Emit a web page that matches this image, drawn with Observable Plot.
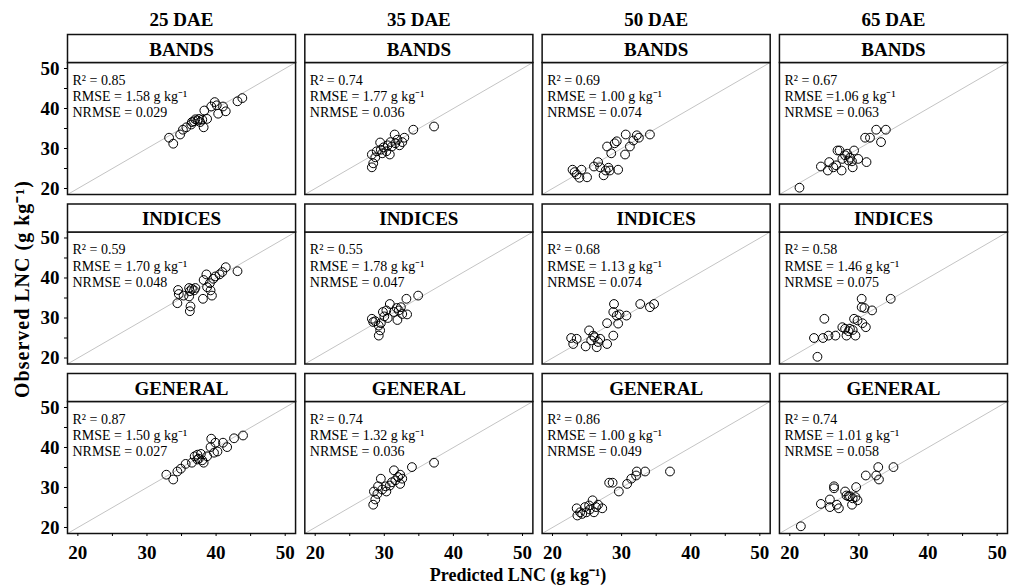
<!DOCTYPE html>
<html><head><meta charset="utf-8">
<script src="https://cdn.jsdelivr.net/npm/d3@7"></script>
<script src="https://cdn.jsdelivr.net/npm/@observablehq/plot@0.6"></script>
<style>
body{margin:0;background:#fff;}
#wrap{position:relative;width:1010px;height:587px;font-family:"Liberation Serif","Times New Roman",serif;color:#000;}
#wrap svg{position:absolute;left:0;top:0;}
.lab{position:absolute;font-weight:bold;white-space:nowrap;line-height:1;}
#ylab{left:22px;top:289px;font-size:20px;letter-spacing:1px;transform:translate(-50%,-50%) rotate(-90deg);}
#xlab{left:518px;top:575px;font-size:18px;transform:translate(-50%,-50%);}
</style>
</head><body>
<div id="wrap"></div>
<script>
// ---------- data ----------
const stages = ["25 DAE", "35 DAE", "50 DAE", "65 DAE"];
const models = ["BANDS", "INDICES", "GENERAL"];
const axisDomain = [18.5, 51.5];
const tickValues = [20, 25, 30, 35, 40, 45, 50];
const labelledTicks = [20, 30, 40, 50];

// BANDS
const bands25Pred = [33.2,33.8,34.8,35.2,35.7,36.4,36.8,37.0,37.3,37.5,37.7,38.2,38.3,38.7,39.3,39.8,40.1,40.3,41.0,41.4,43.1,43.8,36.5,38.0];
const bands25Obs  = [32.7,31.2,33.5,34.7,35.3,36.0,36.8,37.3,37.0,37.4,36.6,35.3,39.5,37.4,40.5,41.6,40.8,38.7,40.5,39.3,41.8,42.6,36.6,37.2];
const bands35Pred = [28.2,28.4,28.2,28.9,29.4,29.5,29.9,30.3,30.5,30.8,31.1,31.5,31.6,31.9,32.2,32.6,32.9,34.2,37.2,29.7,30.9,28.7];
const bands35Obs  = [25.3,26.3,28.5,29.3,31.5,29.7,30.3,29.3,30.8,28.5,30.5,33.5,31.3,32.2,30.8,31.6,32.7,34.7,35.5,28.8,31.6,27.8];
const bands50Pred = [22.9,23.2,23.5,23.9,24.2,25.0,26.0,26.6,26.9,27.4,27.7,28.1,28.3,29.5,27.9,28.5,29.0,29.3,30.6,30.5,31.2,31.7,32.2,32.5,34.1];
const bands50Obs  = [24.7,24.1,23.5,22.7,24.7,22.8,25.5,26.6,25.3,23.3,24.5,25.2,24.5,24.7,30.5,28.8,31.3,31.8,33.5,28.5,30.5,32.0,33.3,32.7,33.5];
const bands65Pred = [21.4,24.5,25.5,25.7,26.3,26.7,26.9,27.2,27.5,27.6,28.0,28.3,28.5,28.7,29.1,29.3,29.9,31.1,30.9,31.6,32.5,33.2,33.9,29.0];
const bands65Obs  = [20.2,25.5,24.5,26.6,25.3,25.8,29.5,29.5,24.5,27.4,28.3,28.7,27.0,27.7,25.3,29.5,27.4,26.6,32.7,32.7,34.7,31.6,34.7,26.8];

// INDICES
const indices25Pred = [34.5,34.6,34.4,35.3,36.1,36.2,36.3,36.2,36.5,37.0,36.1,38.1,38.2,38.6,38.7,39.1,39.2,39.4,39.6,39.9,40.5,40.9,41.4,43.1,36.8];
const indices25Obs  = [37.0,36.0,33.7,35.6,37.5,36.7,32.9,31.7,37.3,37.5,35.4,34.8,39.5,40.9,37.7,38.7,36.9,35.6,39.8,40.4,40.9,41.5,42.7,41.7,36.9];
const indices35Pred = [28.2,28.4,29.2,29.4,29.5,29.8,30.0,30.3,30.5,30.8,31.4,31.9,32.1,32.4,32.6,33.2,33.3,34.9,29.2,31.8,28.7];
const indices35Obs  = [29.8,29.0,25.6,26.9,28.7,31.5,30.4,31.9,30.0,33.5,31.5,29.5,31.9,32.7,31.0,34.8,30.9,35.6,28.1,32.5,29.2];
const indices50Pred = [22.7,23.0,23.5,24.8,25.3,25.6,25.9,26.1,26.4,26.6,26.9,27.9,27.9,28.8,28.9,28.8,29.3,29.5,29.7,30.7,32.7,34.1,34.7];
const indices50Obs  = [25.0,23.5,24.8,22.9,26.9,24.4,25.6,25.2,22.7,24.0,24.8,23.5,28.7,25.6,33.5,31.5,30.6,28.6,30.9,30.6,33.5,32.7,33.5];
const indices65Pred = [24.0,23.5,24.8,25.0,25.6,26.6,27.6,28.0,28.2,28.5,28.7,29.3,29.5,29.8,30.4,30.4,30.8,30.5,31.0,31.9,34.6,29.1];
const indices65Obs  = [20.3,25.0,25.0,29.8,25.6,25.6,27.7,27.3,25.6,26.7,27.3,29.8,25.6,29.4,34.8,32.7,32.5,28.7,27.7,31.9,34.8,27.0];

// GENERAL
const general25Pred = [32.8,33.8,34.4,34.9,35.6,36.5,36.9,37.3,37.5,37.8,38.0,38.2,38.7,39.2,39.3,39.7,39.9,40.2,41.0,41.6,42.6,43.9,37.3];
const general25Obs  = [33.2,32.0,34.0,34.7,35.9,36.2,37.8,38.2,37.2,38.4,36.8,36.2,37.8,40.1,42.2,38.7,41.2,39.0,41.2,40.1,42.3,43.0,37.0];
const general35Pred = [28.4,28.7,28.5,29.1,29.5,29.7,30.2,30.3,30.8,31.4,31.6,32.0,32.3,32.6,32.3,34.0,37.2,29.0,31.1];
const general35Obs  = [25.7,27.0,29.0,30.3,32.2,29.5,30.3,29.0,30.5,34.3,31.8,32.6,33.2,32.2,30.9,35.1,36.2,28.4,31.3];
const general50Pred = [23.5,23.6,24.0,24.3,24.7,24.9,25.3,25.8,26.0,26.3,26.6,27.2,28.2,28.7,29.6,30.8,31.4,32.1,32.2,33.4,37.0,25.4];
const general50Obs  = [24.8,23.0,23.8,23.4,25.1,23.8,25.5,26.8,23.8,25.1,25.7,24.8,31.2,31.2,29.0,30.9,32.2,33.0,34.0,34.0,34.0,24.5];
const general65Pred = [21.6,24.5,25.8,25.8,26.4,26.4,26.8,27.1,28.0,28.2,28.7,29.1,29.0,29.5,29.6,29.8,31.0,32.5,32.8,32.9,35.0,28.5];
const general65Obs  = [20.3,25.9,27.0,25.1,30.3,29.8,25.7,24.8,29.0,28.0,27.8,27.3,25.7,27.6,30.1,26.8,33.0,33.0,35.1,32.0,35.1,27.8];

// fit statistics, in order stages x models (row by row)
const r2Values    = ["0.85","0.74","0.69","0.67", "0.59","0.55","0.68","0.58", "0.87","0.74","0.86","0.74"];
const rmseValues  = ["= 1.58","= 1.77","= 1.00","=1.06", "= 1.70","= 1.78","= 1.13","= 1.46", "= 1.50","= 1.32","= 1.00","= 1.01"];
const nrmseValues = ["0.029","0.036","0.074","0.063", "0.048","0.047","0.074","0.075", "0.027","0.036","0.049","0.058"];

// ---------- assemble ----------
const panelData = [
  [bands25Pred, bands25Obs], [bands35Pred, bands35Obs], [bands50Pred, bands50Obs], [bands65Pred, bands65Obs],
  [indices25Pred, indices25Obs], [indices35Pred, indices35Obs], [indices50Pred, indices50Obs], [indices65Pred, indices65Obs],
  [general25Pred, general25Obs], [general35Pred, general35Obs], [general50Pred, general50Obs], [general65Pred, general65Obs]
];
const points = [];
const stats = [];
panelData.forEach(([pred, obs], k) => {
  const model = models[Math.floor(k / 4)], stage = stages[k % 4];
  pred.forEach((p, i) => points.push({model, stage, pred: p, obs: obs[i]}));
  stats.push({model, stage,
    label: `R² = ${r2Values[k]}\nRMSE ${rmseValues[k]} g kg⁻¹\nNRMSE = ${nrmseValues[k]}`});
});

const W = 1010, H = 587, mL = 67, mR = 3, mT = 34, mB = 54;
const padX = 0.039, padY = 0.056, stripH = 28;
const rowBand = d3.scaleBand().domain(models).range([mT, H - mB]).paddingInner(padY).paddingOuter(0).bandwidth();

const chart = Plot.plot({
  width: W, height: H,
  marginLeft: mL, marginRight: mR, marginTop: mT, marginBottom: mB,
  style: {fontFamily: "'Liberation Serif','Times New Roman',serif", background: "white", color: "black"},
  fx: {domain: stages, paddingInner: padX, paddingOuter: 0, round: false, label: null},
  fy: {domain: models, paddingInner: padY, paddingOuter: 0, round: false, axis: null, label: null},
  x: {domain: axisDomain, label: null},
  y: {domain: axisDomain, insetTop: stripH, label: null},
  marks: [
    Plot.link([0], {x1: () => axisDomain[0], y1: () => axisDomain[0], x2: () => axisDomain[1], y2: () => axisDomain[1], stroke: "#c4c4c4", strokeWidth: 1}),
    Plot.dot(points, {fx: "stage", fy: "model", x: "pred", y: "obs", r: 4.4, stroke: "black", strokeWidth: 1, fill: "none"}),
    Plot.text(stats, {fx: "stage", fy: "model", text: "label", frameAnchor: "top-left", dx: 5, dy: stripH + 11, lineAnchor: "top", lineHeight: 1.15, fontSize: 14, fill: "black"}),
    Plot.frame({insetTop: stripH, stroke: "#111", strokeWidth: 1.5}),
    Plot.frame({insetBottom: rowBand - stripH, stroke: "#111", strokeWidth: 1.5, fill: "white"}),
    Plot.text(models, {fy: d => d, text: d => d, frameAnchor: "top", dy: stripH / 2 + 1, lineAnchor: "middle", fontSize: 19, fontWeight: "bold", fill: "black"}),
    Plot.axisX({ticks: tickValues, tickFormat: d => labelledTicks.includes(d) ? String(d) : "", tickSize: 3, tickPadding: 9, fontSize: 19, fontWeight: "bold", label: null}),
    Plot.axisY({ticks: tickValues, tickFormat: d => labelledTicks.includes(d) ? String(d) : "", tickSize: 3, tickPadding: 5, fontSize: 19, fontWeight: "bold", label: null}),
    Plot.axisFx({anchor: "top", tickSize: 0, tickPadding: 9, fontSize: 19, fontWeight: "bold", label: null})
  ]
});

const wrap = document.getElementById("wrap");
wrap.appendChild(chart);
const yl = document.createElement("div"); yl.className = "lab"; yl.id = "ylab"; yl.textContent = "Observed LNC (g kg⁻¹)"; wrap.appendChild(yl);
const xl = document.createElement("div"); xl.className = "lab"; xl.id = "xlab"; xl.textContent = "Predicted LNC (g kg⁻¹)"; wrap.appendChild(xl);
</script>
</body></html>
